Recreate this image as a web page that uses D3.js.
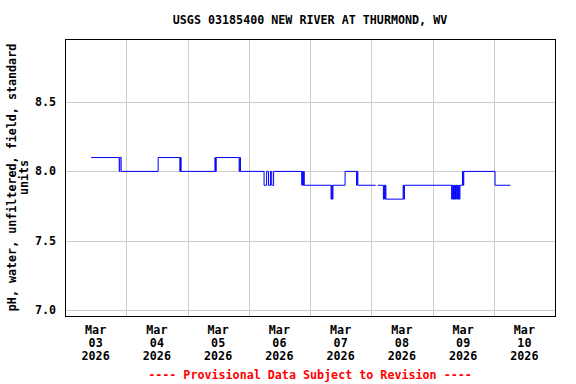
<!DOCTYPE html>
<html>
<head>
<meta charset="utf-8">
<script src="https://cdn.jsdelivr.net/npm/d3@7"></script>
<style>
  body { margin: 0; background: #fff; }
  text { font-family: "DejaVu Sans Mono", monospace; font-weight: bold; font-size: 11.7px; }
</style>
</head>
<body>
<svg id="chart" width="576" height="384"></svg>
<script>
// pH readings (step changes)
var obsTimes = [
  "2026-03-03 10:15","2026-03-03 21:15","2026-03-03 21:30","2026-03-03 22:00",
  "2026-03-04 12:30","2026-03-04 21:00","2026-03-04 21:15","2026-03-04 21:30",
  "2026-03-05 10:45","2026-03-05 11:00","2026-03-05 11:15","2026-03-05 20:15","2026-03-05 20:30","2026-03-05 20:45",
  "2026-03-06 06:00","2026-03-06 07:00","2026-03-06 07:45","2026-03-06 08:30","2026-03-06 09:00","2026-03-06 09:45",
  "2026-03-06 20:45","2026-03-06 21:00","2026-03-06 21:15","2026-03-06 21:30","2026-03-06 21:45",
  "2026-03-07 08:15","2026-03-07 08:30","2026-03-07 08:45","2026-03-07 09:00","2026-03-07 13:45",
  "2026-03-07 18:15","2026-03-07 18:30","2026-03-07 18:45",
  "2026-03-08 01:45","2026-03-08 02:00","2026-03-08 02:30",
  "2026-03-08 04:45","2026-03-08 05:00","2026-03-08 05:15","2026-03-08 05:30","2026-03-08 05:45",
  "2026-03-08 12:30","2026-03-08 12:45","2026-03-08 13:00",
  "2026-03-09 07:30","2026-03-09 07:45","2026-03-09 08:00","2026-03-09 08:15","2026-03-09 08:30",
  "2026-03-09 08:45","2026-03-09 09:00","2026-03-09 09:15","2026-03-09 09:30","2026-03-09 09:45",
  "2026-03-09 10:00","2026-03-09 10:15","2026-03-09 10:30","2026-03-09 10:45",
  "2026-03-09 11:45","2026-03-09 12:00","2026-03-09 12:15",
  "2026-03-10 00:30","2026-03-10 06:30"
];
var phValues = [
  8.1, 8.0, 8.1, 8.0,
  8.1, 8.0, 8.1, 8.0,
  8.1, 8.0, 8.1, 8.0, 8.1, 8.0,
  7.9, 8.0, 7.9, 8.0, 7.9, 8.0,
  7.9, 8.0, 7.9, 8.0, 7.9,
  7.8, 7.9, 7.8, 7.9, 8.0,
  7.9, 8.0, 7.9,
  7.9, null, 7.9,
  7.8, 7.9, 7.8, 7.9, 7.8,
  7.9, 7.8, 7.9,
  7.8, 7.9, 7.8, 7.9, 7.8,
  7.9, 7.8, 7.9, 7.8, 7.9,
  7.8, 7.9, 7.8, 7.9,
  8.0, 7.9, 8.0,
  7.9, 7.9
];
var dayTicks = ["2026-03-03","2026-03-04","2026-03-05","2026-03-06","2026-03-07","2026-03-08","2026-03-09","2026-03-10","2026-03-11"];
var yTicks = [7.0, 7.5, 8.0, 8.5];

var svg = d3.select("#chart");
var margin = {left: 65, right: 21, top: 39, bottom: 68};
var width = 576 - margin.left - margin.right,
    height = 384 - margin.top - margin.bottom;

var parseT = d3.utcParse("%Y-%m-%d %H:%M");
var parseD = d3.utcParse("%Y-%m-%d");
var data = obsTimes.map(function(t, i){ return {t: parseT(t), v: phValues[i]}; });
var days = dayTicks.map(parseD);

var x = d3.scaleUtc().domain([days[0], days[days.length-1]]).range([0, width]);
var y = d3.scaleLinear().domain([6.957, 8.955]).range([height, 0]);

var g = svg.append("g").attr("transform", "translate(" + margin.left + "," + margin.top + ")");

// grid
g.selectAll(".hgrid").data(yTicks).enter().append("line")
  .attr("x1", 0).attr("x2", width)
  .attr("y1", d => Math.round(y(d)) + 0.5).attr("y2", d => Math.round(y(d)) + 0.5)
  .attr("stroke", "#cccccc");
g.selectAll(".vgrid").data(days.slice(1, -1)).enter().append("line")
  .attr("x1", d => Math.round(x(d)) + 0.5).attr("x2", d => Math.round(x(d)) + 0.5)
  .attr("y1", 0).attr("y2", height)
  .attr("stroke", "#cccccc");

// data line
var line = d3.line()
  .defined(d => d.v != null)
  .x(d => x(d.t))
  .y(d => y(d.v))
  .curve(d3.curveStepAfter);
g.append("path").datum(data)
  .attr("d", line)
  .attr("fill", "none")
  .attr("stroke", "#0000ff")
  .attr("stroke-width", 1);

// frame
g.append("rect").attr("x", 0.5).attr("y", 0.5).attr("width", width).attr("height", height)
  .attr("fill", "none").attr("stroke", "#000").attr("stroke-width", 1);

// y tick labels
g.selectAll(".ylab").data(yTicks).enter().append("text")
  .attr("x", -9).attr("y", d => y(d)).attr("dy", "0.35em")
  .attr("text-anchor", "end")
  .text(d => d3.format(".1f")(d));

// x tick labels (at noon of each day)
var fmtMon = d3.utcFormat("%b"), fmtDay = d3.utcFormat("%d"), fmtYr = d3.utcFormat("%Y");
var xl = g.selectAll(".xlab").data(days.slice(0, -1)).enter().append("text")
  .attr("text-anchor", "middle")
  .attr("transform", d => "translate(" + x(d3.utcHour.offset(d, 12)) + "," + (height + 18) + ")");
xl.append("tspan").attr("x", 0).attr("y", 0).text(d => fmtMon(d));
xl.append("tspan").attr("x", 0).attr("y", 13).text(d => fmtDay(d));
xl.append("tspan").attr("x", 0).attr("y", 26).text(d => fmtYr(d));

// title
svg.append("text").attr("x", 310).attr("y", 24).attr("text-anchor", "middle")
  .text("USGS 03185400 NEW RIVER AT THURMOND, WV");

// y axis title
var yt = svg.append("text").attr("text-anchor", "middle")
  .attr("transform", "translate(16," + (margin.top + height / 2) + ") rotate(-90)");
yt.append("tspan").attr("x", 0).attr("y", 0).text("pH, water, unfiltered, field, standard");
yt.append("tspan").attr("x", 0).attr("y", 12).text("units");

// footer
svg.append("text").attr("x", 310).attr("y", 379).attr("text-anchor", "middle")
  .attr("fill", "#ff0000")
  .text("---- Provisional Data Subject to Revision ----");
</script>
</body>
</html>
